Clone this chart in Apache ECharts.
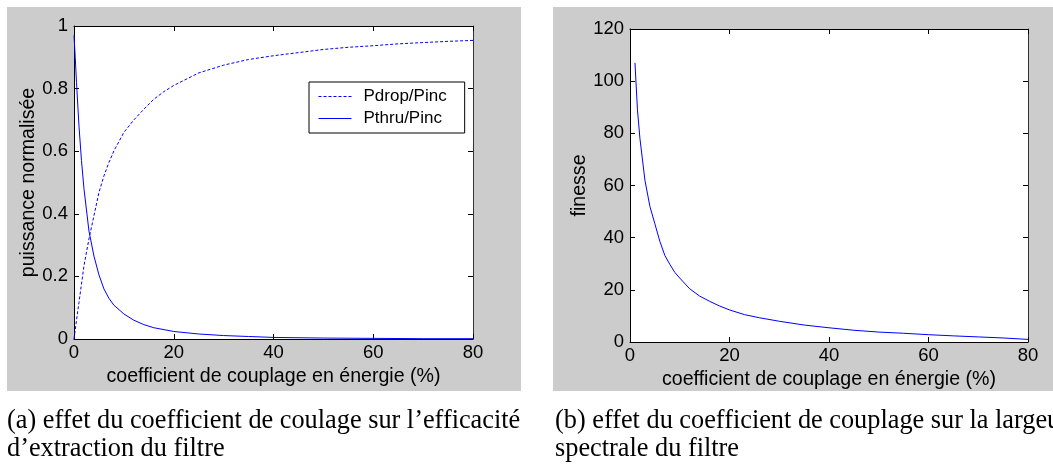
<!DOCTYPE html>
<html>
<head>
<meta charset="utf-8">
<script src="https://cdn.jsdelivr.net/npm/echarts@6/dist/echarts.min.js"></script>
<style>
html,body{margin:0;padding:0;background:#fff;}
#main{width:1053px;height:464px;}
</style>
</head>
<body>
<div id="main"></div>
<script>
// ---- Data ----
// Left chart: normalised power vs energy coupling coefficient (%)
const dropX = [0, 0.5, 1, 2, 3, 4, 5, 6, 7, 8, 10, 12, 14, 16, 18, 20, 25, 30, 35, 40, 45, 50, 55, 60, 65, 70, 75, 80];
const dropY = [0, 0.06, 0.117, 0.234, 0.32, 0.394, 0.468, 0.521, 0.564, 0.601, 0.66, 0.70, 0.734, 0.766, 0.79, 0.81, 0.85, 0.875, 0.893, 0.905, 0.915, 0.925, 0.932, 0.937, 0.943, 0.947, 0.951, 0.954];
const thruX = [0, 0.25, 0.5, 1, 1.5, 2, 3, 4, 5, 6, 7, 8, 10, 12, 14, 16, 20, 25, 30, 35, 40, 50, 60, 70, 80];
const thruY = [0.97, 0.9, 0.82, 0.68, 0.57, 0.48, 0.345, 0.265, 0.205, 0.16, 0.13, 0.108, 0.08, 0.06, 0.046, 0.036, 0.024, 0.016, 0.011, 0.008, 0.005, 0.003, 0.002, 0.001, 0.001];
// Right chart: finesse vs energy coupling coefficient (%)
const finX = [1, 1.5, 2, 3, 4, 5, 6, 7, 8, 9, 10, 12, 14, 16, 18, 20, 23, 26, 30, 35, 40, 45, 50, 55, 60, 65, 70, 75, 80];
const finY = [107, 89, 78, 62, 52, 45.3, 38.6, 33.2, 29.8, 26.7, 24.5, 20.4, 17.6, 15.6, 13.8, 12.3, 10.5, 9.3, 7.95, 6.5, 5.45, 4.5, 3.8, 3.35, 2.8, 2.35, 1.95, 1.55, 1.0];
// Axis ticks
const xTicks = {min: 0, max: 80, interval: 20};
const yTicksLeft = {min: 0, max: 1, interval: 0.2};
const yTicksRight = {min: 0, max: 120, interval: 20};
// Texts
const xName = 'coefficient de couplage en énergie (%)';
const yNameLeft = 'puissance normalisée';
const yNameRight = 'finesse';
const legendNames = ['Pdrop/Pinc', 'Pthru/Pinc'];
const captionA = ["(a) effet du coefficient de coulage sur l\u2019efficacité", "d\u2019extraction du filtre"];
const captionB = ["(b) effet du coefficient de couplage sur la largeur", "spectrale du filtre"];

const pairs = (xs, ys) => xs.map((x, i) => [x, ys[i]]);

// caption font size fitted to the reference line width
const serif = '"Liberation Serif", "Times New Roman", serif';
const cv = document.createElement('canvas').getContext('2d');
cv.font = '100px ' + serif;
const capSize = Math.round(100 * 513 / cv.measureText(captionA[0]).width * 10) / 10;

const sans = '"Liberation Sans", Arial, Helvetica, sans-serif';
const black = '#000';
const tickFont = {fontSize: 18.5, color: black, fontFamily: sans};

function xAxisPair(grid, gap) {
  return [
    {gridIndex: grid, type: 'value', position: 'bottom', ...xTicks,
     axisLine: {show: true, onZero: false, lineStyle: {color: black, width: 1}},
     axisTick: {show: true, inside: true, length: 5, lineStyle: {color: black}},
     axisLabel: {...tickFont, margin: 4},
     splitLine: {show: false},
     name: xName, nameLocation: 'middle', nameGap: gap,
     nameTextStyle: {fontSize: 19.6, color: black, fontFamily: sans, verticalAlign: 'middle'}},
    {gridIndex: grid, type: 'value', position: 'top', ...xTicks,
     axisLine: {show: true, onZero: false, lineStyle: {color: black, width: 1}},
     axisTick: {show: true, inside: true, length: 5, lineStyle: {color: black}},
     axisLabel: {show: false}, splitLine: {show: false}}
  ];
}
function yAxisPair(grid, ticks, name, gap) {
  return [
    {gridIndex: grid, type: 'value', position: 'left', ...ticks,
     axisLine: {show: true, onZero: false, lineStyle: {color: black, width: 1}},
     axisTick: {show: true, inside: true, length: 5, lineStyle: {color: black}},
     axisLabel: {...tickFont, margin: 6},
     splitLine: {show: false},
     name: name, nameLocation: 'middle', nameGap: gap, nameRotate: 90,
     nameTextStyle: {fontSize: 19.6, color: black, fontFamily: sans, verticalAlign: 'middle'}},
    {gridIndex: grid, type: 'value', position: 'right', ...ticks,
     axisLine: {show: true, onZero: false, lineStyle: {color: '#333', width: 1}},
     axisTick: {show: true, inside: true, length: 5, lineStyle: {color: black}},
     axisLabel: {show: false}, splitLine: {show: false}}
  ];
}

const chart = echarts.init(document.getElementById('main'), null, {renderer: 'canvas'});
chart.setOption({
  animation: false,
  backgroundColor: '#fff',
  grid: [
    {left: 74, top: 26, width: 399, height: 313, show: true, backgroundColor: '#fff', borderWidth: 0},
    {left: 630, top: 29, width: 398, height: 313, show: true, backgroundColor: '#fff', borderWidth: 0}
  ],
  xAxis: [...xAxisPair(0, 36), ...xAxisPair(1, 35)],
  yAxis: [...yAxisPair(0, yTicksLeft, yNameLeft, 41), ...yAxisPair(1, yTicksRight, yNameRight, 47)],
  legend: {
    data: legendNames, orient: 'vertical', left: 309, top: 82,
    padding: [6, 18, 6, 9], itemWidth: 33, itemHeight: 14, itemGap: 5,
    backgroundColor: '#fff', borderColor: black, borderWidth: 1, borderRadius: 0,
    itemStyle: {color: 'rgba(0,0,0,0)', borderWidth: 0, borderColor: 'rgba(0,0,0,0)'},
    lineStyle: {width: 1},
    textStyle: {fontSize: 17, color: black, fontFamily: sans, padding: [0, 0, 0, 7]}
  },
  graphic: [
    {type: 'rect', z: -10, shape: {x: 7, y: 7, width: 514, height: 384}, style: {fill: '#cccccc'}, silent: true},
    {type: 'rect', z: -10, shape: {x: 553, y: 7, width: 520, height: 384}, style: {fill: '#cccccc'}, silent: true},
    {type: 'text', z: 10, x: 7, y: 421, style: {text: captionA[0], font: capSize + 'px ' + serif, fill: black, verticalAlign: 'middle'}},
    {type: 'text', z: 10, x: 7, y: 449, style: {text: captionA[1], font: capSize + 'px ' + serif, fill: black, verticalAlign: 'middle'}},
    {type: 'text', z: 10, x: 555, y: 421, style: {text: captionB[0], font: capSize + 'px ' + serif, fill: black, verticalAlign: 'middle'}},
    {type: 'text', z: 10, x: 555, y: 449, style: {text: captionB[1], font: capSize + 'px ' + serif, fill: black, verticalAlign: 'middle'}}
  ],
  series: [
    {name: legendNames[0], type: 'line', xAxisIndex: 0, yAxisIndex: 0, data: pairs(dropX, dropY),
     symbol: 'none', lineStyle: {color: '#0000ff', width: 1, type: [3, 2]}, itemStyle: {color: '#0000ff'}},
    {name: legendNames[1], type: 'line', xAxisIndex: 0, yAxisIndex: 0, data: pairs(thruX, thruY),
     symbol: 'none', lineStyle: {color: '#0000ff', width: 1}, itemStyle: {color: '#0000ff'}},
    {name: 'finesse', type: 'line', xAxisIndex: 2, yAxisIndex: 2, data: pairs(finX, finY),
     symbol: 'none', lineStyle: {color: '#0000ff', width: 1}, itemStyle: {color: '#0000ff'}}
  ]
});
</script>
</body>
</html>
